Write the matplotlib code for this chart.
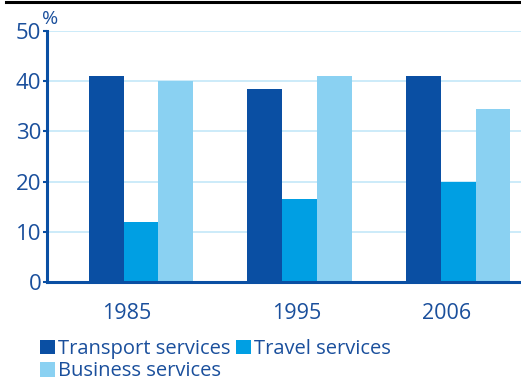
import matplotlib.pyplot as plt
from matplotlib.patches import Patch
from matplotlib.lines import Line2D
import numpy as np

years = ['1985', '1995', '2006']
series = ['Transport services', 'Travel services', 'Business services']
transport = [41.0, 38.5, 41.0]
travel = [12.0, 16.5, 20.0]
business = [40.0, 41.0, 34.5]
yticks = [0, 10, 20, 30, 40, 50]

colors = ['#0a4fa3', '#009fe3', '#8ad1f2']
text_col = '#1a4f9c'
grid_col = '#c4e8f8'

plt.rcParams['font.family'] = ['Open Sans', 'DejaVu Sans']

fig = plt.figure(figsize=(5.21, 3.83), dpi=100)
ax = fig.add_axes([47/521, 1 - 282/383, 474/521, 251/383])

x = np.arange(len(years))
w = 0.22
for i, vals in enumerate([transport, travel, business]):
    ax.bar(x + (i - 1) * w, vals, width=w, color=colors[i], zorder=3,
           linewidth=0)

ax.set_xlim(-0.593, 2.397)
ax.set_ylim(0, 50)
ax.set_yticks(yticks)
ax.set_yticklabels([str(t) for t in yticks])
# year labels sit a little left of the group centres
ax.set_xticks(x + np.array([-0.09, -0.015, -0.075]))
ax.set_xticklabels(years)

for t in yticks[1:]:
    ax.axhline(t, color=grid_col, lw=1.2, zorder=1)

for s in ['top', 'right']:
    ax.spines[s].set_visible(False)
ax.spines['left'].set_color(colors[0])
ax.spines['left'].set_linewidth(2.2)
ax.spines['bottom'].set_color(colors[0])
ax.spines['bottom'].set_linewidth(2.2)
ax.spines['bottom'].set_zorder(4)

ax.tick_params(axis='y', length=3, width=1.5, color=colors[0], pad=1,
               labelsize=16, labelcolor=text_col)
ax.tick_params(axis='x', length=0, pad=15, labelsize=15.5, labelcolor=text_col)

ax.text(-0.01, 1.01, '%', transform=ax.transAxes, fontsize=14,
        color=text_col, ha='left', va='bottom')

# thin black rule across the top
fig.add_artist(Line2D([6/521, 1], [1 - 2/383, 1 - 2/383], color='black',
                      lw=2.2, transform=fig.transFigure))

# legend fills column-wise, so order the entries to read across rows
order = [0, 2, 1]
handles = [Patch(facecolor=colors[i], edgecolor='none') for i in order]
labels = [series[i] for i in order]
leg = fig.legend(handles, labels, loc='upper left',
                 bbox_to_anchor=(32/521, 1 - 331/383), ncol=2, frameon=False,
                 fontsize=14.5, handlelength=0.72, handleheight=0.72,
                 handletextpad=0.15, columnspacing=0.3, labelspacing=0.12,
                 borderaxespad=0)
for t in leg.get_texts():
    t.set_color(text_col)

fig.savefig('out.png', dpi=100)
